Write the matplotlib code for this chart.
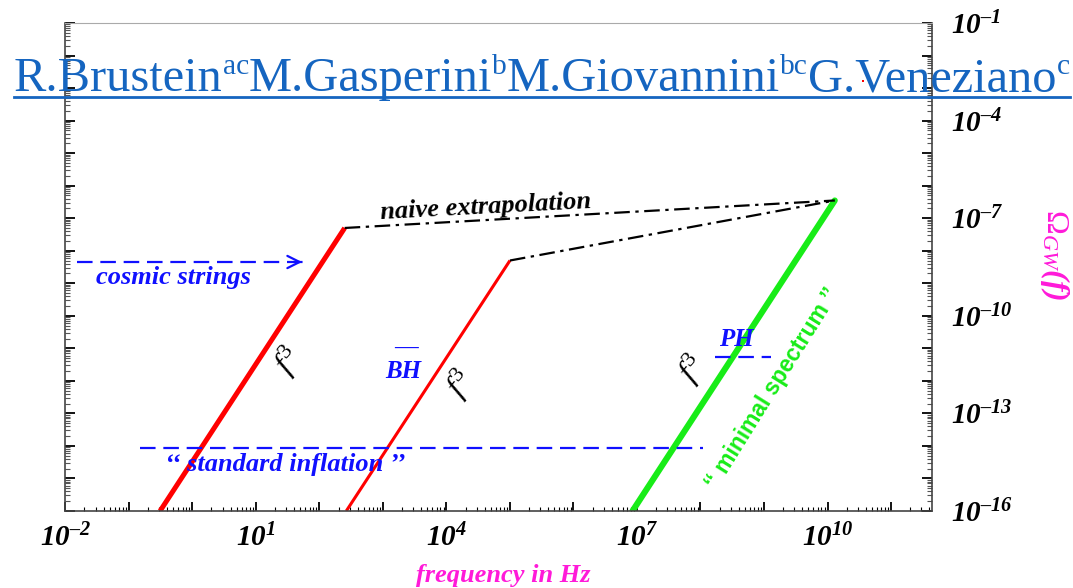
import numpy as np
import matplotlib
matplotlib.use("Agg")
import matplotlib.pyplot as plt
from matplotlib.ticker import FixedLocator, LogLocator, NullFormatter
from matplotlib.lines import Line2D

plt.rcParams['mathtext.fontset'] = 'custom'
plt.rcParams['mathtext.rm'] = 'Liberation Serif'
plt.rcParams['mathtext.it'] = 'Liberation Serif:italic'
plt.rcParams['mathtext.bf'] = 'Liberation Serif:italic:bold'

# ---------------- data ----------------
red1_f = [0.31, 250.0]
red1_omega = [1e-16, 5e-8]
red2_f = [265.0, 1.0e5]
red2_omega = [1e-16, 5e-9]
green_f = [8.5e6, 1.3e10]
green_omega = [1e-16, 3.5e-7]
naive1_f = [250.0, 1.3e10]
naive1_omega = [5e-8, 3.5e-7]
naive2_f = [1.0e5, 1.3e10]
naive2_omega = [5e-9, 3.5e-7]
cosmic_f = [0.015, 59.0]
cosmic_omega = [4.5e-9, 4.5e-9]
inflation_f = [0.15, 1.1e8]
inflation_omega = [8.7e-15, 8.7e-15]
ph_f = [1.7e8, 1.3e9]
ph_omega = [5.6e-12, 5.6e-12]
dot_f = [3.6e10]
dot_omega = [1.7e-3]

xtick_exp = list(range(-2, 12))
xtick_shown = [-2, 1, 4, 7, 10]
ytick_exp = list(range(-16, 0))
ytick_shown = [-16, -13, -10, -7, -4, -1]

authors = ['R.Brustein', 'M.Gasperini', 'M.Giovannini', 'G.Veneziano']
affiliations = ['ac', 'b', 'bc', 'c']


def exp_label(e):
    s = str(abs(e))
    if e < 0:
        s = '\u2013' + s
    return r'$\mathbf{10^{%s}}$' % s


xtick_labels = [exp_label(e) if e in xtick_shown else '' for e in xtick_exp]
ytick_labels = [exp_label(e) if e in ytick_shown else '' for e in ytick_exp]

# ---------------- figure ----------------
fig = plt.figure(figsize=(10.73, 5.88), dpi=100)
ax = fig.add_axes([0.0609, 0.1310, 0.8074, 0.8299])
ax.set_xscale('log')
ax.set_yscale('log')
ax.set_xlim(1e-2, 10**11.64)
ax.set_ylim(1e-16, 1e-1)

BLUE = '#1010ff'
RED = '#ff0000'
GREEN = '#18ec18'
MAG = '#ff1ad9'

ax.plot(red1_f, red1_omega, color=RED, lw=3.6, solid_capstyle='butt')
ax.plot(red2_f, red2_omega, color=RED, lw=2.2, solid_capstyle='butt')
ax.plot(green_f, green_omega, color=GREEN, lw=4.4, solid_capstyle='round')
ax.plot(naive1_f, naive1_omega, color='black', lw=1.6, linestyle=(0, (7, 2.5, 1.5, 2.5)))
ax.plot(naive2_f, naive2_omega, color='black', lw=1.6, linestyle=(0, (7, 2.5, 1.5, 2.5)))
ax.plot(cosmic_f, cosmic_omega, color=BLUE, lw=1.6, linestyle=(0, (7, 3.5)))
ax.annotate('', xy=(cosmic_f[1], cosmic_omega[1]), xytext=(cosmic_f[1] * 0.6, cosmic_omega[1]),
            arrowprops=dict(arrowstyle='->', color=BLUE, lw=1.6, mutation_scale=22))
ax.plot(inflation_f, inflation_omega, color=BLUE, lw=1.6, linestyle=(0, (7, 3.5)))
ax.plot(ph_f, ph_omega, color=BLUE, lw=1.6, linestyle=(0, (7, 3.5)))
ax.plot(dot_f, dot_omega, 's', color=RED, markersize=1.5, markeredgewidth=0)

serif_bi = dict(family='Liberation Serif', style='italic', weight='bold')
ax.text(0.5, 1.45e-9, 'cosmic strings', color=BLUE, fontsize=19, ha='center', va='center', **serif_bi)
ax.text(4.2e4, 2.2e-7, 'naive extrapolation', color='black', fontsize=19, ha='center', va='center',
        rotation=3, **serif_bi)
ax.text(28.6, 2.6e-15, '\u2018\u2018 standard inflation \u2019\u2019', color=BLUE, fontsize=19,
        ha='center', va='center', **serif_bi)
ax.text(2060, 1.95e-12, 'BH', color=BLUE, fontsize=18, ha='center', va='center', **serif_bi)
ax.text(2300, 1.0e-11, '\u2014', color=BLUE, fontsize=17, ha='center', va='center',
        family='Liberation Serif', weight='bold')
ax.text(3.7e8, 1.9e-11, 'PH', color=BLUE, fontsize=18, ha='center', va='center', **serif_bi)
for fx, fy in [(33, 4e-12), (1.7e4, 7.8e-13), (7.5e7, 2.2e-12)]:
    ax.text(fx, fy, r'$f^{3}$', color='black', fontsize=23, ha='center', va='center', rotation=50)
ax.text(1.35e9, 5.9e-13, '\u2018\u2018 minimal spectrum \u2019\u2019', color=GREEN, fontsize=16.5,
        ha='center', va='center', rotation=58, family='Liberation Sans', weight='bold')

# ---------------- axes styling ----------------
ax.xaxis.set_major_locator(FixedLocator([10.0 ** e for e in xtick_exp]))
ax.set_xticklabels(xtick_labels)
ax.xaxis.set_minor_locator(LogLocator(base=10, subs=np.arange(2, 10), numticks=100))
ax.xaxis.set_minor_formatter(NullFormatter())
ax.yaxis.set_major_locator(FixedLocator([10.0 ** e for e in ytick_exp]))
ax.set_yticklabels(ytick_labels)
ax.yaxis.set_minor_locator(LogLocator(base=10, subs=np.arange(2, 10), numticks=100))
ax.yaxis.set_minor_formatter(NullFormatter())

ax.tick_params(axis='x', which='both', direction='in', top=False, bottom=True, colors='black')
ax.tick_params(axis='x', which='major', length=6.5, width=1.3, pad=9, labelsize=21)
ax.tick_params(axis='x', which='minor', length=3.2, width=0.8)
ax.tick_params(axis='y', which='both', direction='in', left=True, right=True,
               labelleft=False, labelright=True)
ax.tick_params(axis='y', which='major', length=7, width=1.3, pad=14, labelsize=21)
ax.tick_params(axis='y', which='minor', length=3.5, width=0.8, color='#555555')
for lab in ax.get_yticklabels():
    lab.set_horizontalalignment('left')

ax.spines['top'].set_color('#aaaaaa')
for s in ('left', 'bottom', 'right'):
    ax.spines[s].set_color('#444444')
    ax.spines[s].set_linewidth(1.2)

fig.text(0.469, 0.022, 'frequency in Hz', color=MAG, fontsize=19, ha='center', va='center', **serif_bi)
fig.text(0.983, 0.566, r'$\Omega_{\mathit{GW}}\mathbf{(f)}$', color=MAG, fontsize=23, ha='center',
         va='center', rotation=270)

# ---------------- title (rich text composed piece by piece) ----------------
TITLE_C = '#1565c0'
W, H = fig.bbox.width, fig.bbox.height
r = fig.canvas.get_renderer()


def compose(main_fs, sup_fs, x0_px, base_px, sup_raise_px):
    arts = []
    x = x0_px
    for name, aff in zip(authors, affiliations):
        tm = fig.text(x / W, 1 - base_px / H, name, color=TITLE_C, fontsize=main_fs,
                      family='Liberation Serif', ha='left', va='baseline')
        x = tm.get_window_extent(r).x1
        ts = fig.text(x / W, 1 - (base_px - sup_raise_px) / H, aff, color=TITLE_C, fontsize=sup_fs,
                      family='Liberation Serif', ha='left', va='baseline')
        x = ts.get_window_extent(r).x1
        arts += [tm, ts]
    return arts, x


arts, xend = compose(36, 22, 14, 91, 17)
scale = (1068 - 14) / (xend - 14)
for a in arts:
    a.remove()
arts, xend = compose(36 * scale, 22 * scale, 14, 91, 17)
yl = 1 - 97 / H
fig.add_artist(Line2D([14 / W, xend / W], [yl, yl], color=TITLE_C, lw=2.0, transform=fig.transFigure))

fig.savefig('out.png', dpi=100)
